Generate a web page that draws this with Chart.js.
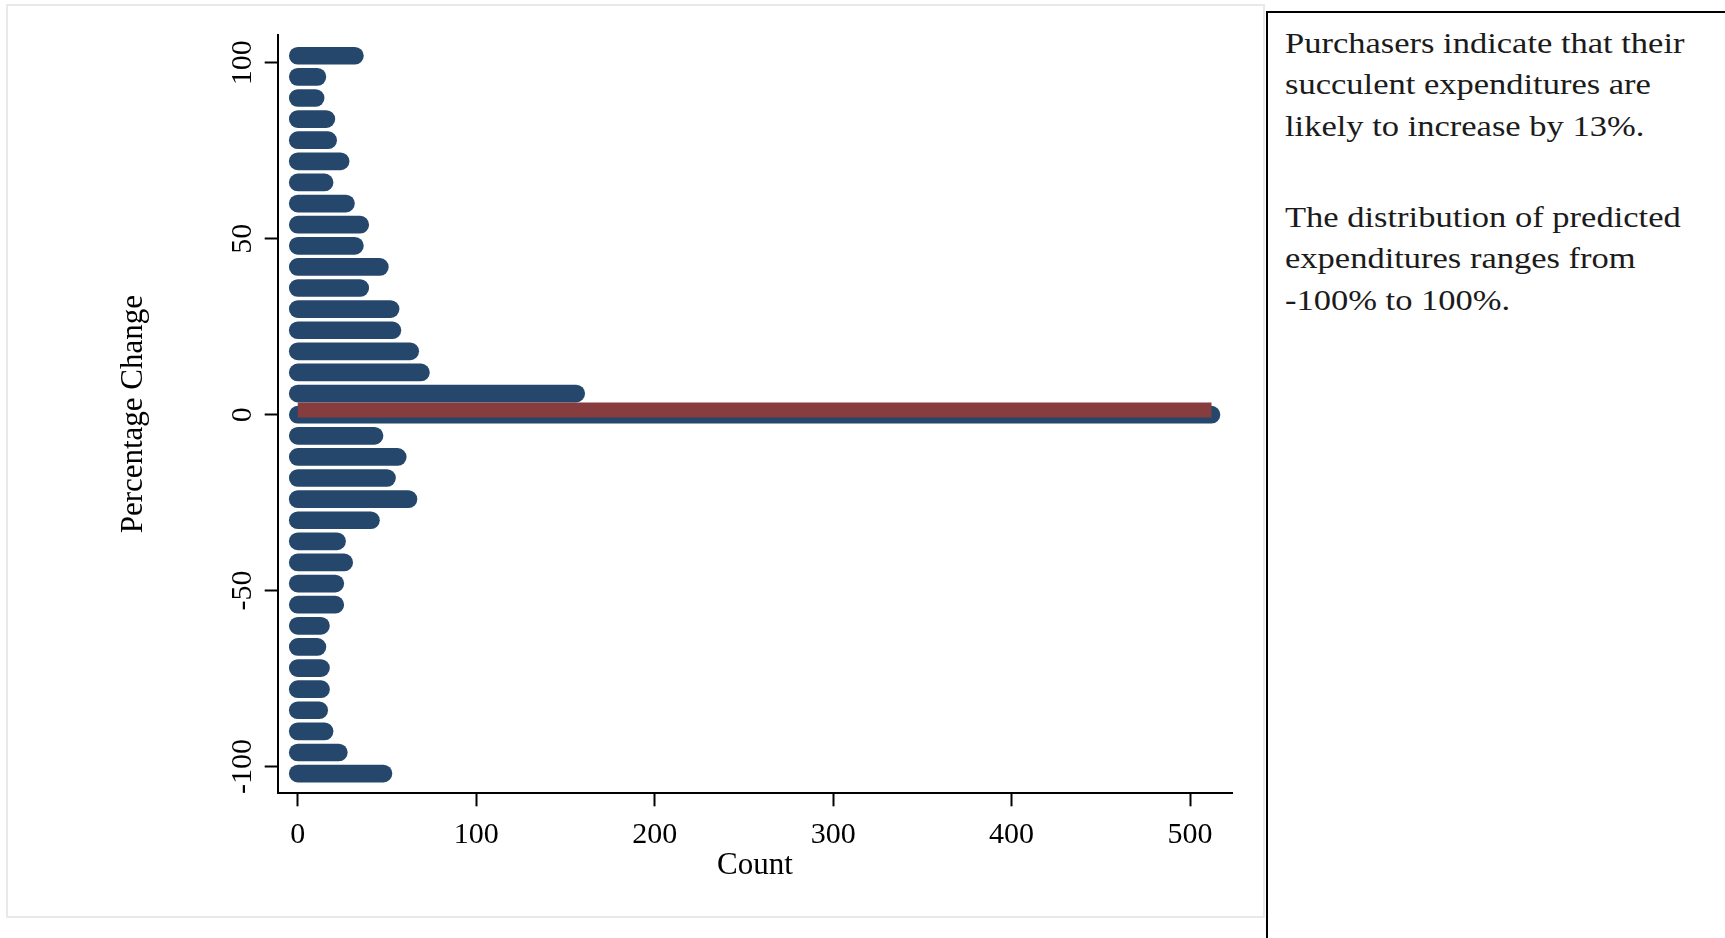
<!DOCTYPE html>
<html>
<head>
<meta charset="utf-8">
<title>Percentage Change</title>
<script src="https://cdn.jsdelivr.net/npm/chart.js@4.4.1/dist/chart.umd.min.js"></script>
<style>
  body { margin: 0; background: #fff; width: 1725px; height: 938px; overflow: hidden; position: relative; }
  .frame { position: absolute; left: 6px; top: 4px; width: 1259px; height: 914px; border: 2px solid #e6eaed; box-sizing: border-box; }
  .chart-wrap { position: absolute; left: 0; top: 0; width: 1265px; height: 938px; }
  .note { position: absolute; left: 1266px; top: 11px; width: 600px; height: 1000px; border: 2px solid #000; box-sizing: border-box; }
  .note p { position: absolute; left: 17px; margin: 0; white-space: nowrap; color: #1b1b1b;
            font: 30px/41.3px "Liberation Serif", "Times New Roman", serif;
            transform: scaleX(1.15); transform-origin: left top; }
</style>
</head>
<body>
<div class="frame"></div>
<div class="chart-wrap"><canvas id="hist"></canvas></div>
<div class="note">
  <p style="top: 9px">Purchasers indicate that their<br>succulent expenditures are<br>likely to increase by 13%.</p>
  <p style="top: 183px">The distribution of predicted<br>expenditures ranges from<br>-100% to 100%.</p>
</div>
<script>
// bin midpoints (percentage change) and number of respondents in each bin
var bins = [-102, -96, -90, -84, -78, -72, -66, -60, -54, -48, -42, -36, -30, -24, -18, -12, -6,
            0, 6, 12, 18, 24, 30, 36, 42, 48, 54, 60, 66, 72, 78, 84, 90, 96, 102];
var counts = [48, 23, 15, 12, 13, 13, 11, 13, 21, 21, 26, 22, 41, 62, 50, 56, 43,
              512, 156, 69, 63, 53, 52, 35, 46, 32, 35, 27, 15, 24, 17, 16, 10, 11, 32];

// red reference line drawn over the tallest bin
var markY = 1.3;
var markCount = 512;

var xTicks = [0, 100, 200, 300, 400, 500];
var yTicks = [-100, -50, 0, 50, 100];

var navy = '#26476c';
var maroon = '#873c3e';
var serif = '"Liberation Serif", "Times New Roman", serif';

var datasets = bins.map(function (b, i) {
    return {
        data: [{x: 0, y: b}, {x: counts[i], y: b}],
        showLine: true,
        borderColor: navy,
        borderWidth: 17.7,
        borderCapStyle: 'round',
        pointRadius: 0,
        clip: false
    };
});

datasets.push({
    data: [{x: 0, y: markY}, {x: markCount, y: markY}],
    showLine: true,
    borderColor: maroon,
    borderWidth: 15,
    borderCapStyle: 'butt',
    pointRadius: 0,
    clip: false,
    order: -1
});

new Chart(document.getElementById('hist').getContext('2d'), {
    type: 'scatter',
    data: { datasets: datasets },
    options: {
        responsive: true,
        maintainAspectRatio: false,
        animation: false,
        events: [],
        layout: { padding: { left: 100, top: 35, right: 33, bottom: 0 } },
        plugins: { legend: { display: false }, tooltip: { enabled: false } },
        scales: {
            x: {
                type: 'linear',
                min: -11.25,
                max: 523.5,
                afterBuildTicks: function (s) { s.ticks = xTicks.map(function (v) { return {value: v}; }); },
                afterFit: function (s) { s.height = 144.7; },
                grid: { drawOnChartArea: false, tickLength: 13, tickWidth: 2, tickColor: '#000' },
                border: { display: true, color: '#000', width: 2 },
                ticks: { color: '#000', padding: 11, font: { family: serif, size: 30 } },
                title: {
                    display: true, text: 'Count', color: '#000',
                    font: { family: serif, size: 31 },
                    padding: { top: 0, bottom: 54 }
                }
            },
            y: {
                type: 'linear',
                min: -107.6,
                max: 107.9,
                afterBuildTicks: function (s) { s.ticks = yTicks.map(function (v) { return {value: v}; }); },
                afterFit: function (s) { s.width = 177.7; },
                grid: { drawOnChartArea: false, tickLength: 13, tickWidth: 2, tickColor: '#000' },
                border: { display: true, color: '#000', width: 2 },
                ticks: {
                    color: '#000', padding: -6, minRotation: 90, maxRotation: 90,
                    crossAlign: 'center', font: { family: serif, size: 30 }
                },
                title: {
                    display: true, text: 'Percentage Change', color: '#000',
                    font: { family: serif, size: 31 },
                    padding: { top: 15, bottom: 0 }
                }
            }
        }
    }
});
</script>
</body>
</html>
